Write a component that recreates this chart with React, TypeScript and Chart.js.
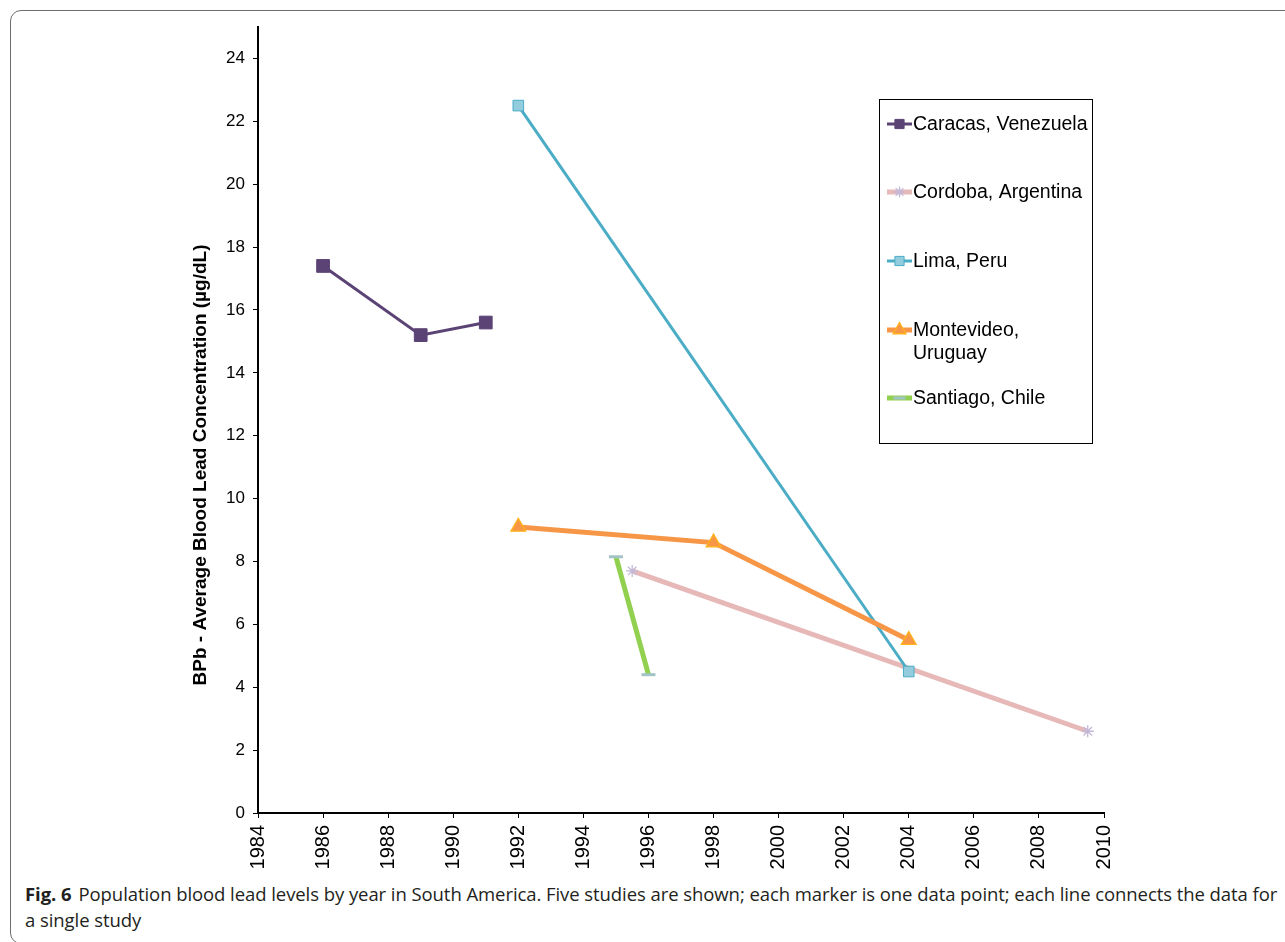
import React, { useEffect, useRef } from "react";
import { Chart, registerables } from "chart.js";
import { drawPoint } from "chart.js/helpers";

Chart.register(...registerables);

// Blood lead measurements (BPb, µg/dL) by study year
const caracasYears = [1986, 1989, 1991];
const caracasBpb = [17.4, 15.2, 15.6];

const cordobaYears = [1995.5, 2009.5];
const cordobaBpb = [7.7, 2.6];

const limaYears = [1992, 2004];
const limaBpb = [22.5, 4.5];

const montevideoYears = [1992, 1998, 2004];
const montevideoBpb = [9.1, 8.6, 5.5];

const santiagoYears = [1995, 1996];
const santiagoBpb = [8.15, 4.4];

// Legend text, one entry per study (each inner array is drawn line by line)
const studyNames = [
  ["Caracas, Venezuela"],
  ["Cordoba, Argentina"],
  ["Lima, Peru"],
  ["Montevideo,", "Uruguay"],
  ["Santiago, Chile"],
];

// Axis ranges and tick spacing
const yearMin = 1984;
const yearMax = 2010;
const yearStep = 2;
const bpbMin = 0;
const bpbMax = 25;
const bpbStep = 2;

const yTitle = "BPb - Average Blood Lead Concentration (µg/dL)";
const captionLead = "Fig. 6";
const captionLine1 =
  "Population blood lead levels by year in South America. Five studies are shown; each marker is one data point; each line connects the data for";
const captionLine2 = "a single study";

const FONT = "'Liberation Sans', Arial, Helvetica, sans-serif";

type SeriesStyle = {
  line: string;
  lineWidth: number;
  pointStyle: string;
  radius: number;
  legendRadius: number;
  fill: string;
  stroke: string;
  strokeWidth: number;
};

const styles: SeriesStyle[] = [
  { line: "#5B4375", lineWidth: 3, pointStyle: "rect", radius: 9, legendRadius: 6.5, fill: "#5B4375", stroke: "#5B4375", strokeWidth: 1 },
  { line: "#E6B9B8", lineWidth: 5, pointStyle: "star", radius: 6, legendRadius: 5.5, fill: "#C7BEDB", stroke: "#C2B8D8", strokeWidth: 1.3 },
  { line: "#4BACC6", lineWidth: 3, pointStyle: "rect", radius: 7.5, legendRadius: 6.5, fill: "#93CDDD", stroke: "#4BACC6", strokeWidth: 1 },
  { line: "#F79646", lineWidth: 5, pointStyle: "triangle", radius: 8.5, legendRadius: 7.5, fill: "#F79646", stroke: "#FFB21A", strokeWidth: 1.3 },
  { line: "#92D050", lineWidth: 5, pointStyle: "line", radius: 7, legendRadius: 6, fill: "#A8CFCB", stroke: "#A3C4C4", strokeWidth: 3 },
];

const seriesYears = [caracasYears, cordobaYears, limaYears, montevideoYears, santiagoYears];
const seriesValues = [caracasBpb, cordobaBpb, limaBpb, montevideoBpb, santiagoBpb];

// Boxed legend drawn at the upper right of the plot area
const legendBoxPlugin = {
  id: "legendBox",
  afterDraw(chart: any) {
    const { ctx, chartArea } = chart;
    const left = chartArea.right - 225;
    const top = chartArea.top + 72;
    const w = 213;
    const h = 344;
    const rowOffsets = [25, 93, 162, 231, 299];
    ctx.save();
    ctx.strokeStyle = "#000";
    ctx.lineWidth = 1;
    ctx.strokeRect(left + 0.5, top + 0.5, w, h);
    styles.forEach((s, i) => {
      const cy = top + rowOffsets[i];
      ctx.strokeStyle = s.line;
      ctx.lineWidth = s.lineWidth;
      ctx.lineCap = "butt";
      ctx.beginPath();
      ctx.moveTo(left + 8, cy);
      ctx.lineTo(left + 33, cy);
      ctx.stroke();
      ctx.fillStyle = s.fill;
      ctx.strokeStyle = s.stroke;
      ctx.lineWidth = s.strokeWidth;
      drawPoint(
        ctx,
        { pointStyle: s.pointStyle as any, radius: s.legendRadius, borderWidth: s.strokeWidth, rotation: 0 } as any,
        left + 20.5,
        cy
      );
      ctx.fillStyle = "#000";
      ctx.font = `19.5px ${FONT}`;
      ctx.textAlign = "left";
      ctx.textBaseline = "middle";
      studyNames[i].forEach((txt, k) => {
        ctx.fillText(txt, left + 34, cy + 1 + k * 23);
      });
    });
    ctx.restore();
  },
};

// Rotated, bold y-axis title
const yTitlePlugin = {
  id: "yTitle",
  afterDraw(chart: any) {
    const { ctx, chartArea } = chart;
    ctx.save();
    ctx.translate(chartArea.left - 57, chartArea.top + 438);
    ctx.rotate(-Math.PI / 2);
    ctx.font = `bold 19px ${FONT}`;
    ctx.fillStyle = "#000";
    ctx.textAlign = "center";
    ctx.textBaseline = "middle";
    ctx.fillText(yTitle, 0, 0);
    ctx.restore();
  },
};

function BloodLeadChart() {
  const canvasRef = useRef<HTMLCanvasElement | null>(null);

  useEffect(() => {
    if (!canvasRef.current) return;
    const datasets = styles.map((s, i) => ({
      label: studyNames[i].join(" "),
      data: seriesYears[i].map((x, k) => ({ x, y: seriesValues[i][k] })),
      showLine: true,
      tension: 0,
      borderColor: s.line,
      borderWidth: s.lineWidth,
      backgroundColor: s.fill,
      pointStyle: s.pointStyle,
      pointRadius: s.radius,
      pointHoverRadius: s.radius,
      pointBackgroundColor: s.fill,
      pointBorderColor: s.stroke,
      pointBorderWidth: s.strokeWidth,
      order: styles.length - 1 - i,
    }));

    const chart = new Chart(canvasRef.current, {
      type: "scatter",
      data: { datasets: datasets as any },
      options: {
        animation: false,
        responsive: true,
        maintainAspectRatio: false,
        events: [],
        layout: { padding: { top: 27, right: 181, left: 0, bottom: 0 } },
        plugins: { legend: { display: false }, tooltip: { enabled: false } },
        scales: {
          x: {
            type: "linear",
            min: yearMin,
            max: yearMax,
            afterFit: (scale: any) => {
              scale.height = 67;
            },
            ticks: {
              stepSize: yearStep,
              minRotation: 90,
              maxRotation: 90,
              padding: 7,
              color: "#000",
              font: { family: FONT, size: 20 },
              callback: (v: any) => String(v),
            },
            grid: {
              drawOnChartArea: false,
              drawTicks: true,
              tickLength: 5,
              tickColor: "#000",
              tickWidth: 1,
            },
            border: { display: true, color: "#000", width: 2 },
          },
          y: {
            type: "linear",
            min: bpbMin,
            max: bpbMax,
            afterFit: (scale: any) => {
              scale.width = 258;
            },
            ticks: {
              stepSize: bpbStep,
              includeBounds: false,
              padding: 8,
              color: "#000",
              font: { family: FONT, size: 17 },
            },
            grid: {
              drawOnChartArea: false,
              drawTicks: true,
              tickLength: 5,
              tickColor: "#000",
              tickWidth: 1,
            },
            border: { display: true, color: "#000", width: 2 },
          },
        },
      },
      plugins: [legendBoxPlugin, yTitlePlugin],
    });
    return () => chart.destroy();
  }, []);

  return (
    <div style={{ position: "absolute", left: 0, top: 0, width: 1285, height: 880 }}>
      <canvas ref={canvasRef} />
    </div>
  );
}

export default function App() {
  return (
    <div style={{ position: "absolute", left: 0, top: 0, width: 1285, height: 942, overflow: "hidden", background: "#fff" }}>
      <div
        style={{
          position: "absolute",
          left: 10,
          top: 10,
          width: 1300,
          height: 934,
          border: "1px solid #6e6e6e",
          borderRadius: 11,
          boxSizing: "border-box",
        }}
      />
      <BloodLeadChart />
      <div
        style={{
          position: "absolute",
          left: 25,
          top: 881,
          fontFamily: "'Open Sans', Lato, sans-serif",
          fontSize: 18.5,
          lineHeight: "26px",
          letterSpacing: "-0.07px",
          color: "#231F20",
          whiteSpace: "nowrap",
        }}
      >
        <div>
          <span style={{ fontWeight: "bold", marginRight: 7 }}>{captionLead}</span>
          {captionLine1}
        </div>
        <div>{captionLine2}</div>
      </div>
    </div>
  );
}
